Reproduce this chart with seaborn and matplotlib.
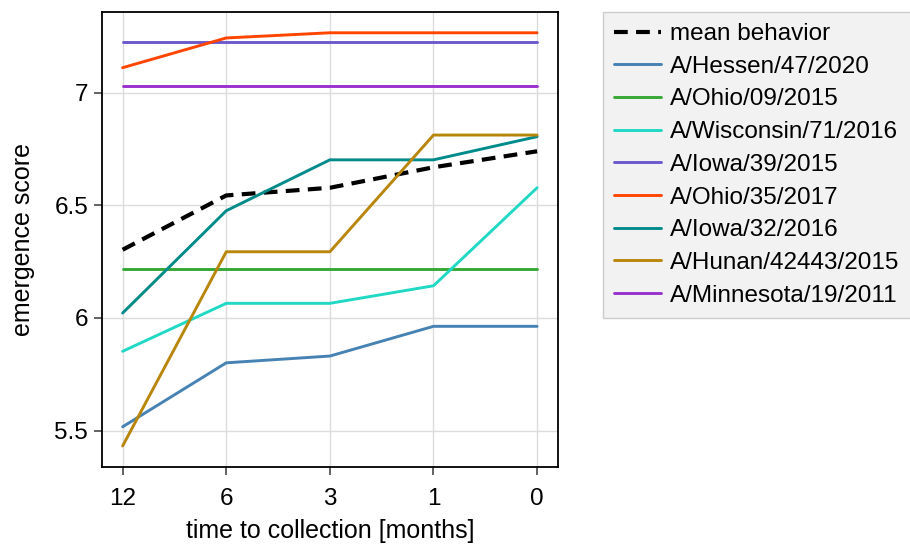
import pandas as pd
import matplotlib.pyplot as plt
import seaborn as sns

# data
time_labels = ["12", "6", "3", "1", "0"]

strains = ["A/Hessen/47/2020", "A/Ohio/09/2015", "A/Wisconsin/71/2016",
           "A/Iowa/39/2015", "A/Ohio/35/2017", "A/Iowa/32/2016",
           "A/Hunan/42443/2015", "A/Minnesota/19/2011"]

hessen = [5.517, 5.801, 5.831, 5.963, 5.963]
ohio09 = [6.218, 6.218, 6.218, 6.218, 6.218]
wisconsin = [5.852, 6.065, 6.065, 6.143, 6.578]
iowa39 = [7.224, 7.224, 7.224, 7.224, 7.224]
ohio35 = [7.111, 7.243, 7.266, 7.266, 7.266]
iowa32 = [6.022, 6.476, 6.702, 6.702, 6.805]
hunan = [5.432, 6.294, 6.294, 6.812, 6.812]
minnesota = [7.029, 7.029, 7.029, 7.029, 7.029]
mean_behavior = [6.303, 6.544, 6.578, 6.669, 6.740]

colors = ["#4682b4", "#36a836", "#20d8c4", "#6a5acd",
          "#ff4500", "#008b8b", "#b8860b", "#9932cc"]

series = [hessen, ohio09, wisconsin, iowa39, ohio35, iowa32, hunan, minnesota]
rows = []
for name, vals in zip(strains, series):
    for t, v in zip(time_labels, vals):
        rows.append({"time": t, "score": v, "strain": name})
df = pd.DataFrame(rows)
mean_df = pd.DataFrame({"time": time_labels, "score": mean_behavior})

sns.set_style("whitegrid")
plt.rcParams["font.family"] = ["Liberation Sans", "DejaVu Sans"]
plt.rcParams["text.color"] = "black"
plt.rcParams["axes.labelcolor"] = "black"

fig = plt.figure(figsize=(9.1, 5.48), dpi=100)
ax = fig.add_axes([0.112, 0.148, 0.501, 0.830])

sns.lineplot(data=mean_df, x="time", y="score", color="black", lw=3,
             ax=ax, label="mean behavior", sort=False)
ax.lines[-1].set_dashes([3.3, 2])
sns.lineplot(data=df, x="time", y="score", hue="strain", hue_order=strains,
             palette=colors, lw=2.1, ax=ax, sort=False)

ax.set_xlim(-0.2, 4.2)
ax.set_ylim(5.339, 7.358)
ax.set_yticks([5.5, 6, 6.5, 7])
ax.set_yticklabels(["5.5", "6", "6.5", "7"])
ax.grid(True, color="#dcdcdc", lw=1)
for s in ax.spines.values():
    s.set_color("black")
    s.set_linewidth(1.3)
ax.tick_params(axis="both", bottom=True, left=True, length=6, width=1.3,
               color="#555555", labelcolor="black", labelsize=17.5,
               direction="out", pad=4)
ax.tick_params(axis="x", pad=9)
ax.set_xlabel("time to collection [months]", fontsize=18, labelpad=7)
ax.set_ylabel("emergence score", fontsize=18, labelpad=14)

leg = ax.legend(loc="upper left", bbox_to_anchor=(1.1, 1.0), fontsize=17.5,
                frameon=True, handlelength=1.9, labelspacing=0.44,
                borderpad=0.45, handletextpad=0.4, borderaxespad=0)
leg.get_frame().set_facecolor("#f2f2f2")
leg.get_frame().set_edgecolor("#cccccc")
leg.get_frame().set_alpha(1)
leg.get_frame().set_boxstyle("square", pad=0)

fig.savefig("out.png", dpi=100)
